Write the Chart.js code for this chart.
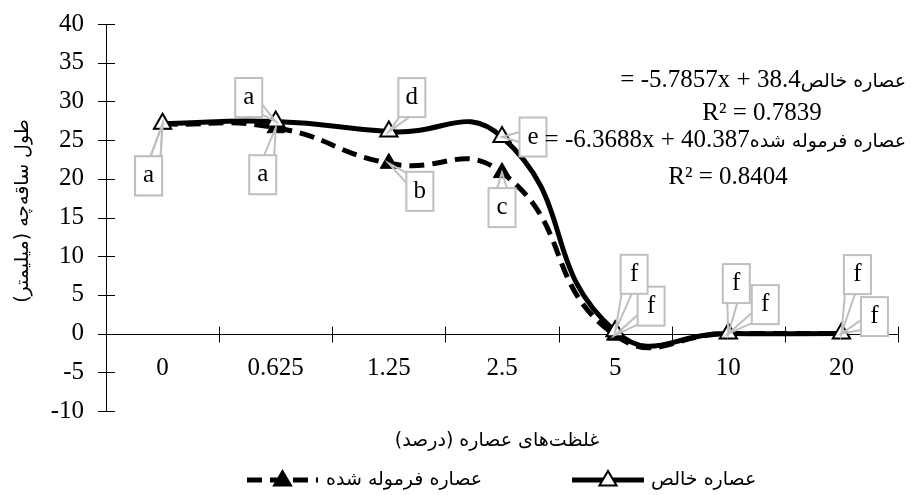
<!DOCTYPE html>
<html>
<head>
<meta charset="utf-8">
<script src="https://cdn.jsdelivr.net/npm/chart.js@4.4.0/dist/chart.umd.min.js"></script>
<style>
  html, body { margin: 0; padding: 0; background: #fff; }
  #wrap { width: 915px; height: 495px; }
</style>
</head>
<body>
<div id="wrap"><canvas id="growthChart" width="915" height="495"></canvas></div>
<script>
// extract concentrations (percent)
const categories = ["0", "0.625", "1.25", "2.5", "5", "10", "20"];
// seedling length (mm)
const pureValues = [27.1, 27.4, 26.1, 25.4, 0.3, 0, 0];
const formulatedValues = [27.1, 26.6, 22.0, 20.8, -0.2, 0, 0];
const pureLetters = ["a", "a", "d", "e", "f", "f", "f"];
const formulatedLetters = ["a", "a", "b", "c", "f", "f", "f"];
const yTicks = [40, 35, 30, 25, 20, 15, 10, 5, 0, -5, -10];

const pureName = "عصاره خالص";
const formulatedName = "عصاره فرموله شده";
const pureEquation = "= -5.7857x + 38.4";
const pureR2 = "R² = 0.7839";
const formulatedEquation = "= -6.3688x + 40.387";
const formulatedR2 = "R² = 0.8404";
const xTitle = "غلظت‌های عصاره (درصد)";
const yTitle = "طول ساقه‌چه (میلیمتر)";

// where each letter box sits relative to its point (px)
const pureOffsets = [[-14, 52], [-27, -24], [23, -34], [31, 0], [19, -57], [8, -50], [16, -59]];
const formulatedOffsets = [[-14, 52], [-13, 47], [31, 28], [0, 35], [36, -29], [37, -29], [33, -17]];

const serif = "'Liberation Serif', 'Times New Roman', serif";
const arabic = "'DejaVu Sans', sans-serif";

const axisLines = {
    id: "axisLines",
    beforeDatasetsDraw(chart) {
        const ctx = chart.ctx;
        const area = chart.chartArea;
        const y = chart.scales.y;
        const zero = y.getPixelForValue(0);
        ctx.save();
        ctx.strokeStyle = "#000";
        ctx.lineWidth = 1;
        ctx.beginPath();
        ctx.moveTo(area.left + 0.5, area.top);
        ctx.lineTo(area.left + 0.5, area.bottom);
        yTicks.forEach(v => {
            const py = Math.round(y.getPixelForValue(v)) + 0.5;
            ctx.moveTo(area.left - 8, py);
            ctx.lineTo(area.left + 9, py);
        });
        const zy = Math.round(zero) + 0.5;
        ctx.moveTo(area.left, zy);
        ctx.lineTo(area.right, zy);
        const step = (area.right - area.left) / categories.length;
        for (let i = 1; i <= categories.length; i++) {
            const px = Math.round(area.left + i * step) + 0.5;
            ctx.moveTo(px, zy - 8);
            ctx.lineTo(px, zy + 8);
        }
        ctx.stroke();
        ctx.restore();
    }
};

function drawCallout(ctx, px, py, cx, cy, letter) {
    const w = 27, h = 39;
    const x0 = cx - w / 2, y0 = cy - h / 2;
    const dx = px - cx, dy = py - cy;
    let b1, b2;
    if (Math.abs(dy) * w > Math.abs(dx) * h) {
        const ey = dy < 0 ? y0 : y0 + h;
        const bx = Math.min(Math.max(cx + dx * 0.5, x0 + 6), x0 + w - 6);
        b1 = [bx - 5, ey];
        b2 = [bx + 5, ey];
    } else {
        const ex = dx < 0 ? x0 : x0 + w;
        const by = Math.min(Math.max(cy + dy * 0.5, y0 + 6), y0 + h - 6);
        b1 = [ex, by - 5];
        b2 = [ex, by + 5];
    }
    ctx.strokeStyle = "#bfbfbf";
    ctx.lineWidth = 2;
    ctx.fillStyle = "#fff";
    ctx.fillRect(x0, y0, w, h);
    ctx.strokeRect(x0, y0, w, h);
    ctx.beginPath();
    ctx.moveTo(b1[0], b1[1]);
    ctx.lineTo(px, py);
    ctx.lineTo(b2[0], b2[1]);
    ctx.stroke();
    ctx.fillStyle = "#000";
    ctx.font = "25px " + serif;
    ctx.textAlign = "center";
    ctx.textBaseline = "middle";
    ctx.fillText(letter, cx, cy);
}

const callouts = {
    id: "callouts",
    afterDatasetsDraw(chart) {
        const ctx = chart.ctx;
        ctx.save();
        const sets = [[formulatedLetters, formulatedOffsets, 1], [pureLetters, pureOffsets, 0]];
        sets.forEach(([letters, offsets, di]) => {
            const pts = chart.getDatasetMeta(di).data;
            pts.forEach((p, i) => {
                drawCallout(ctx, p.x, p.y, p.x + offsets[i][0], p.y + offsets[i][1], letters[i]);
            });
        });
        ctx.restore();
    }
};

function drawEquation(ctx, name, eq, right, y) {
    ctx.textBaseline = "middle";
    ctx.font = "19px " + arabic;
    ctx.direction = "rtl";
    ctx.textAlign = "right";
    const w = ctx.measureText(name).width;
    ctx.fillText(name, right, y + 2);
    ctx.direction = "ltr";
    ctx.font = "25px " + serif;
    ctx.fillText(eq, right - w, y);
}

function legendSymbol(ctx, x0, x1, y, dashed, fill) {
    ctx.save();
    ctx.strokeStyle = "#000";
    ctx.lineWidth = 5;
    ctx.setLineDash(dashed ? [15, 8] : []);
    ctx.beginPath();
    ctx.moveTo(x0, y);
    ctx.lineTo(x1, y);
    ctx.stroke();
    ctx.setLineDash([]);
    const cx = (x0 + x1) / 2, r = 9;
    ctx.beginPath();
    ctx.moveTo(cx, y - r);
    ctx.lineTo(cx + r * 0.95, y + r * 0.6);
    ctx.lineTo(cx - r * 0.95, y + r * 0.6);
    ctx.closePath();
    ctx.fillStyle = fill;
    ctx.lineWidth = 2;
    ctx.fill();
    ctx.stroke();
    ctx.restore();
}

const texts = {
    id: "texts",
    afterDraw(chart) {
        const ctx = chart.ctx;
        ctx.save();
        ctx.fillStyle = "#000";
        drawEquation(ctx, pureName, pureEquation, 906, 80);
        drawEquation(ctx, formulatedName, formulatedEquation, 906, 140);
        ctx.font = "25px " + serif;
        ctx.textAlign = "center";
        ctx.textBaseline = "middle";
        ctx.fillText(pureR2, 762, 113);
        ctx.fillText(formulatedR2, 728, 177);

        ctx.font = "19px " + arabic;
        ctx.direction = "rtl";
        ctx.fillText(xTitle, 497, 441);
        ctx.save();
        ctx.translate(23, 211);
        ctx.rotate(-Math.PI / 2);
        ctx.fillText(yTitle, 0, 0);
        ctx.restore();

        legendSymbol(ctx, 247, 318, 480, true, "#000");
        legendSymbol(ctx, 572, 644, 480, false, "#fff");
        ctx.font = "19px " + arabic;
        ctx.direction = "rtl";
        ctx.textAlign = "left";
        ctx.fillStyle = "#000";
        ctx.fillText(formulatedName, 326, 480);
        ctx.fillText(pureName, 651, 480);
        ctx.restore();
    }
};

const ctx = document.getElementById("growthChart").getContext("2d");
const growthChart = new Chart(ctx, {
    type: "line",
    data: {
        labels: categories,
        datasets: [{
            label: pureName,
            data: pureValues,
            borderColor: "#000",
            borderWidth: 5,
            tension: 0.5,
            pointStyle: "triangle",
            pointRadius: 10,
            pointBackgroundColor: "#fff",
            pointBorderColor: "#000",
            pointBorderWidth: 2
        }, {
            label: formulatedName,
            data: formulatedValues,
            borderColor: "#000",
            borderWidth: 5,
            borderDash: [15, 8],
            tension: 0.5,
            pointStyle: "triangle",
            pointRadius: 10,
            pointBackgroundColor: "#000",
            pointBorderColor: "#000",
            pointBorderWidth: 1
        }]
    },
    options: {
        responsive: false,
        maintainAspectRatio: false,
        animation: false,
        layout: { padding: { top: 24, right: 17, bottom: 84, left: 0 } },
        plugins: {
            legend: { display: false },
            tooltip: { enabled: false }
        },
        scales: {
            x: {
                type: "category",
                position: { y: 0 },
                offset: true,
                grid: { display: false },
                border: { display: false },
                ticks: {
                    color: "#000",
                    font: { family: serif, size: 25 },
                    padding: 12,
                    maxRotation: 0,
                    autoSkip: false
                }
            },
            y: {
                min: -10,
                max: 40,
                afterBuildTicks: s => { s.ticks = yTicks.map(v => ({ value: v })); },
                afterFit: s => {
                    s.width = 106;
                    s.paddingTop = 0;
                    s.paddingBottom = 0;
                },
                grid: { display: false },
                border: { display: false },
                ticks: {
                    color: "#000",
                    font: { family: serif, size: 25 },
                    padding: 14
                }
            }
        }
    },
    plugins: [axisLines, callouts, texts]
});
</script>
</body>
</html>
